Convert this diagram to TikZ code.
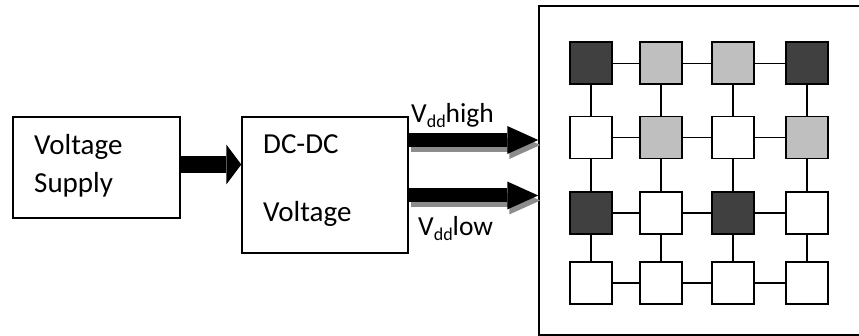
\documentclass[tikz,border=0pt]{standalone}
\usepackage{fontspec}
\setmainfont{Carlito}
\usetikzlibrary{arrows.meta}
\begin{document}
\begin{tikzpicture}[x=1pt,y=-1pt,
  blk/.style={draw, line width=1.5pt, inner sep=0pt},
  cell/.style={draw, line width=1.8pt, minimum size=42pt, inner sep=0pt},
  dk/.style={cell, fill=black!75},
  lt/.style={cell, fill=black!25},
  wt/.style={cell, fill=white},
  lbl/.style={anchor=base west, inner sep=0pt, font=\fontsize{29}{32}\selectfont},
  vlbl/.style={anchor=base west, inner sep=0pt, font=\fontsize{27.5}{30}\selectfont},
  link/.style={line width=1.5pt},
  bigarrow/.style={line width=17pt, -{Triangle[length=15pt, width=40pt, line width=0pt]}},
  outarrow/.style={line width=14pt, -{Triangle[length=31pt, width=28pt, line width=0pt]}},
  shadowarrow/.style={outarrow, draw=black!45}
]
\useasboundingbox (0,0) rectangle (859,336);

% blocks
\node[blk, minimum width=167pt, minimum height=101pt] (vs) at (96.5,167.5) {};
\node[blk, minimum width=166pt, minimum height=136pt] (dc) at (325,185) {};
\node[blk, minimum width=323pt, minimum height=329pt] (big) at (700.5,170.5) {};

% texts
\node[lbl] (t1) at (34,155) {Voltage};
\node[lbl] (t2) at (34,193) {Supply};
\node[lbl] (t3) at (263,154) {DC-DC};
\node[lbl] (t4) at (263,222) {Voltage};
\node[vlbl] (hi) at (411,123) {V\raisebox{-5pt}{\fontsize{18}{20}\selectfont dd}high};
\node[vlbl] (lo) at (418,236) {V\raisebox{-5pt}{\fontsize{18}{20}\selectfont dd}low};

% supply -> dc-dc
\draw[bigarrow] ([yshift=3pt]vs.east) -- ([yshift=3pt]vs.east -| dc.west);

% dc-dc -> grid
\coordinate (u1) at ([yshift=45pt]dc.east);
\coordinate (l1) at ([yshift=-10.5pt]dc.east);
\begin{scope}[transform canvas={shift={(2pt,-5pt)}}]
  \draw[shadowarrow] (u1) -- (u1 -| big.west);
  \draw[shadowarrow] (l1) -- (l1 -| big.west);
\end{scope}
\draw[outarrow] (u1) -- (u1 -| big.west);
\draw[outarrow] (l1) -- (l1 -| big.west);

% grid cells
\node[dk] (c11) at (590.8,63.3) {};
\node[lt] (c12) at (661,63.3) {};
\node[lt] (c13) at (732.8,63.3) {};
\node[dk] (c14) at (807.2,63.3) {};
\node[wt] (c21) at (590.8,137.5) {};
\node[lt] (c22) at (661,137.5) {};
\node[wt] (c23) at (732.8,137.5) {};
\node[lt] (c24) at (807.2,137.5) {};
\node[dk] (c31) at (590.8,213) {};
\node[wt] (c32) at (661,213) {};
\node[dk] (c33) at (732.8,213) {};
\node[wt] (c34) at (807.2,213) {};
\node[wt] (c41) at (590.8,283) {};
\node[wt] (c42) at (661,283) {};
\node[wt] (c43) at (732.8,283) {};
\node[wt] (c44) at (807.2,283) {};

% links
\foreach \r in {1,2,3,4}{
  \draw[link] (c\r1) -- (c\r2);
  \draw[link] (c\r2) -- (c\r3);
  \draw[link] (c\r3) -- (c\r4);
}
\foreach \c in {1,2,3,4}{
  \draw[link] (c1\c) -- (c2\c);
  \draw[link] (c2\c) -- (c3\c);
  \draw[link] (c3\c) -- (c4\c);
}
\end{tikzpicture}
\end{document}
